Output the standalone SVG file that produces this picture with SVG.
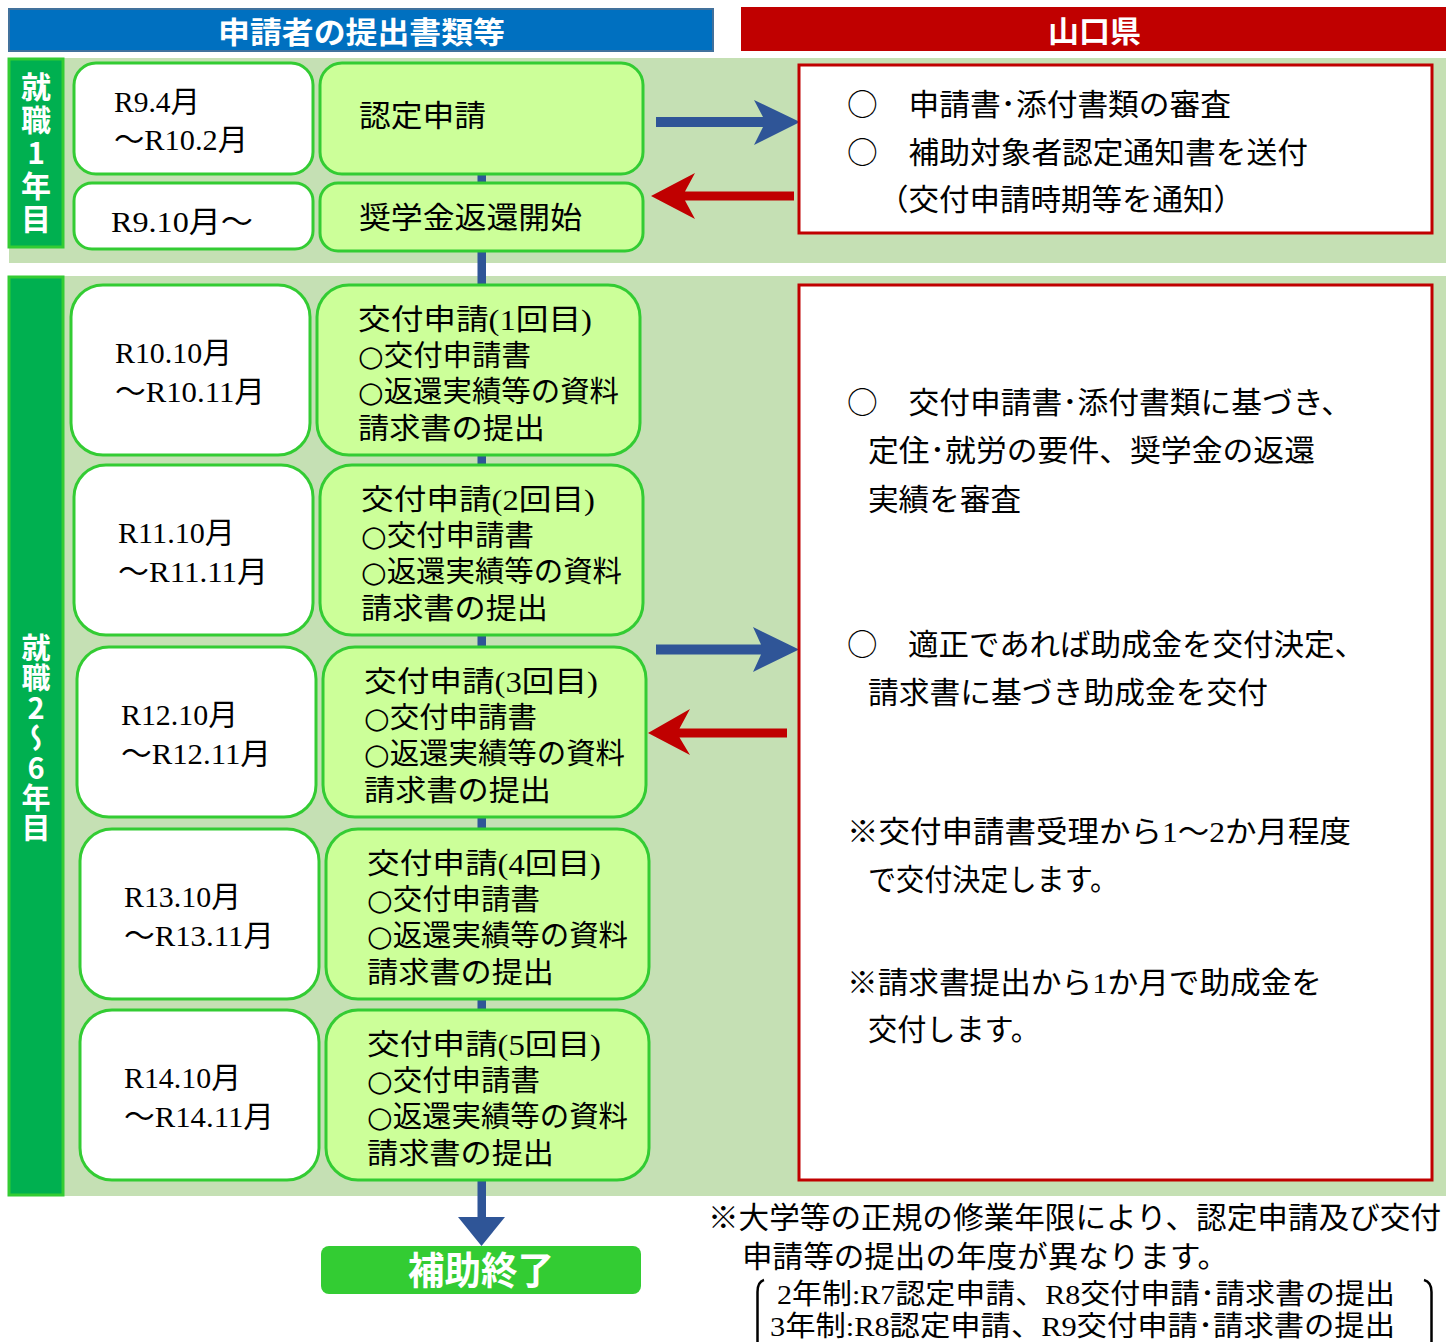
<svg xmlns="http://www.w3.org/2000/svg" width="1454" height="1342" viewBox="0 0 1454 1342">
<style>
.band{fill:#C5E0B4}
.side{fill:#00B050;stroke:#33CC33;stroke-width:3}
.date{fill:#FFFFFF;stroke:#33CC33;stroke-width:3}
.step{fill:#CCFF99;stroke:#33CC33;stroke-width:3}
.pref{fill:#FFFFFF;stroke:#C00000;stroke-width:3}
.t{font-family:"Liberation Serif","Noto Sans CJK JP",serif;font-size:30px;fill:#000}
.j{font-family:"Lato","Noto Sans CJK JP",sans-serif;font-size:30px;fill:#000}
.c{font-family:"Noto Sans CJK JP",sans-serif}
.d{font-family:"DejaVu Sans","Noto Sans CJK JP",sans-serif}
.s{font-size:29px}
.w{font-family:"Noto Sans CJK JP",sans-serif;font-weight:bold;fill:#FFFFFF;font-size:30px}
.v{font-family:"Noto Sans CJK JP",sans-serif;font-weight:bold;fill:#FFFFFF;writing-mode:vertical-rl;text-orientation:upright;text-anchor:middle}
.blue{fill:#2F5597}
.red{fill:#C00000}
.br{fill:none;stroke:#000;stroke-width:2.5}
</style>
<rect width="1454" height="1342" fill="#FFFFFF"/>

<g id="header-applicant">
<rect x="9" y="9" width="704" height="42" fill="#0070C0" stroke="#41719C" stroke-width="2"/>
<text class="w" x="218" y="43" textLength="287" lengthAdjust="spacingAndGlyphs">申請者の提出書類等</text>
</g>
<g id="header-pref">
<rect x="741" y="7" width="705" height="44" fill="#C00000"/>
<text class="w" x="1048" y="42" textLength="93" lengthAdjust="spacingAndGlyphs">山口県</text>
</g>

<g id="band-year1"><rect class="band" x="9" y="58" width="1437" height="205"/></g>
<g id="band-year2"><rect class="band" x="9" y="276" width="1437" height="920"/></g>

<g id="label-year1">
<rect class="side" x="9" y="59" width="54" height="188"/>
<text class="v" x="36" y="154" style="font-size:30px;letter-spacing:3px">就職1年目</text>
</g>
<g id="label-year2">
<rect class="side" x="9" y="277" width="54" height="918"/>
<text class="v" x="36" y="738" style="font-size:29px;letter-spacing:1px">就職2～6年目</text>
</g>

<g id="connectors">
<rect class="blue" x="477.5" y="174" width="8.5" height="1045"/>
<polygon class="blue" points="458,1217 505,1217 481.5,1246"/>
<polygon class="blue" points="656,117 763,117 754,100 800,122 754,145 763,127 656,127"/>
<polygon class="red" points="794,191.5 685,191.5 695,173 651,196 695,219 685,200.5 794,200.5"/>
<polygon class="blue" points="656,644.5 761,644.5 753,627 799,649.5 753,672 761,654.5 656,654.5"/>
<polygon class="red" points="787,728.5 679.5,728.5 690,709 648,733 690,755 679.5,737.5 787,737.5"/>
</g>

<g id="date-r9-4">
<rect class="date" x="74" y="63" width="239" height="111" rx="22"/>
<text class="t" x="114" y="112" textLength="86" lengthAdjust="spacingAndGlyphs">R9.4月</text>
<text class="t" x="114" y="150" textLength="134" lengthAdjust="spacingAndGlyphs">～R10.2月</text>
</g>
<g id="step-nintei">
<rect class="step" x="320" y="63" width="323" height="111" rx="22"/>
<text class="j" x="359" y="126" textLength="127" lengthAdjust="spacingAndGlyphs">認定申請</text>
</g>
<g id="date-r9-10">
<rect class="date" x="74" y="183" width="239" height="66" rx="18"/>
<text class="t" x="111" y="232" textLength="142" lengthAdjust="spacingAndGlyphs">R9.10月～</text>
</g>
<g id="step-henkan">
<rect class="step" x="320" y="183" width="323" height="68" rx="18"/>
<text class="j" x="359" y="228" textLength="223" lengthAdjust="spacingAndGlyphs">奨学金返還開始</text>
</g>
<g id="pref-year1">
<rect class="pref" x="799" y="65" width="633" height="168"/>
<text class="j" x="847" y="115" textLength="384" lengthAdjust="spacingAndGlyphs"><tspan class="c">○</tspan>　申請書･添付書類の審査</text>
<text class="j" x="847" y="163" textLength="461" lengthAdjust="spacingAndGlyphs"><tspan class="c">○</tspan>　補助対象者認定通知書を送付</text>
<text class="j" x="878" y="210" textLength="366" lengthAdjust="spacingAndGlyphs">（交付申請時期等を通知）</text>
</g>

<g id="date-r10">
<rect class="date" x="71" y="285" width="239" height="170" rx="32"/>
<text class="t" x="115" y="363" textLength="117" lengthAdjust="spacingAndGlyphs">R10.10月</text>
<text class="t" x="115" y="402" textLength="150" lengthAdjust="spacingAndGlyphs">～R10.11月</text>
</g>
<g id="step-kofu1">
<rect class="step" x="317" y="285" width="323" height="170" rx="32"/>
<text class="t s" x="358" y="330" textLength="234" lengthAdjust="spacingAndGlyphs">交付申請(1回目)</text>
<text class="j s" x="358" y="366" textLength="173" lengthAdjust="spacingAndGlyphs"><tspan class="d">○</tspan>交付申請書</text>
<text class="j s" x="358" y="402" textLength="261" lengthAdjust="spacingAndGlyphs"><tspan class="d">○</tspan>返還実績等の資料</text>
<text class="j s" x="358" y="439" textLength="187" lengthAdjust="spacingAndGlyphs">請求書の提出</text>
</g>

<g id="date-r11">
<rect class="date" x="74" y="465" width="239" height="170" rx="32"/>
<text class="t" x="118" y="543" textLength="117" lengthAdjust="spacingAndGlyphs">R11.10月</text>
<text class="t" x="118" y="582" textLength="150" lengthAdjust="spacingAndGlyphs">～R11.11月</text>
</g>
<g id="step-kofu2">
<rect class="step" x="320" y="465" width="323" height="170" rx="32"/>
<text class="t s" x="361" y="510" textLength="234" lengthAdjust="spacingAndGlyphs">交付申請(2回目)</text>
<text class="j s" x="361" y="546" textLength="173" lengthAdjust="spacingAndGlyphs"><tspan class="d">○</tspan>交付申請書</text>
<text class="j s" x="361" y="582" textLength="261" lengthAdjust="spacingAndGlyphs"><tspan class="d">○</tspan>返還実績等の資料</text>
<text class="j s" x="361" y="619" textLength="187" lengthAdjust="spacingAndGlyphs">請求書の提出</text>
</g>

<g id="date-r12">
<rect class="date" x="77" y="647" width="239" height="170" rx="32"/>
<text class="t" x="121" y="725" textLength="117" lengthAdjust="spacingAndGlyphs">R12.10月</text>
<text class="t" x="121" y="764" textLength="150" lengthAdjust="spacingAndGlyphs">～R12.11月</text>
</g>
<g id="step-kofu3">
<rect class="step" x="323" y="647" width="323" height="170" rx="32"/>
<text class="t s" x="364" y="692" textLength="234" lengthAdjust="spacingAndGlyphs">交付申請(3回目)</text>
<text class="j s" x="364" y="728" textLength="173" lengthAdjust="spacingAndGlyphs"><tspan class="d">○</tspan>交付申請書</text>
<text class="j s" x="364" y="764" textLength="261" lengthAdjust="spacingAndGlyphs"><tspan class="d">○</tspan>返還実績等の資料</text>
<text class="j s" x="364" y="801" textLength="187" lengthAdjust="spacingAndGlyphs">請求書の提出</text>
</g>

<g id="date-r13">
<rect class="date" x="80" y="829" width="239" height="170" rx="32"/>
<text class="t" x="124" y="907" textLength="117" lengthAdjust="spacingAndGlyphs">R13.10月</text>
<text class="t" x="124" y="946" textLength="150" lengthAdjust="spacingAndGlyphs">～R13.11月</text>
</g>
<g id="step-kofu4">
<rect class="step" x="326" y="829" width="323" height="170" rx="32"/>
<text class="t s" x="367" y="874" textLength="234" lengthAdjust="spacingAndGlyphs">交付申請(4回目)</text>
<text class="j s" x="367" y="910" textLength="173" lengthAdjust="spacingAndGlyphs"><tspan class="d">○</tspan>交付申請書</text>
<text class="j s" x="367" y="946" textLength="261" lengthAdjust="spacingAndGlyphs"><tspan class="d">○</tspan>返還実績等の資料</text>
<text class="j s" x="367" y="983" textLength="187" lengthAdjust="spacingAndGlyphs">請求書の提出</text>
</g>

<g id="date-r14">
<rect class="date" x="80" y="1010" width="239" height="170" rx="32"/>
<text class="t" x="124" y="1088" textLength="117" lengthAdjust="spacingAndGlyphs">R14.10月</text>
<text class="t" x="124" y="1127" textLength="150" lengthAdjust="spacingAndGlyphs">～R14.11月</text>
</g>
<g id="step-kofu5">
<rect class="step" x="326" y="1010" width="323" height="170" rx="32"/>
<text class="t s" x="367" y="1055" textLength="234" lengthAdjust="spacingAndGlyphs">交付申請(5回目)</text>
<text class="j s" x="367" y="1091" textLength="173" lengthAdjust="spacingAndGlyphs"><tspan class="d">○</tspan>交付申請書</text>
<text class="j s" x="367" y="1127" textLength="261" lengthAdjust="spacingAndGlyphs"><tspan class="d">○</tspan>返還実績等の資料</text>
<text class="j s" x="367" y="1164" textLength="187" lengthAdjust="spacingAndGlyphs">請求書の提出</text>
</g>

<g id="pref-year2">
<rect class="pref" x="799" y="285" width="633" height="895"/>
<text class="j" x="847" y="413" textLength="505" lengthAdjust="spacingAndGlyphs"><tspan class="c">○</tspan>　交付申請書･添付書類に基づき、</text>
<text class="j" x="868" y="461" textLength="447" lengthAdjust="spacingAndGlyphs">定住･就労の要件、奨学金の返還</text>
<text class="j" x="868" y="510" textLength="153" lengthAdjust="spacingAndGlyphs">実績を審査</text>
<text class="j" x="847" y="655" textLength="518" lengthAdjust="spacingAndGlyphs"><tspan class="c">○</tspan>　適正であれば助成金を交付決定、</text>
<text class="j" x="868" y="703" textLength="400" lengthAdjust="spacingAndGlyphs">請求書に基づき助成金を交付</text>
<text class="t" x="847" y="842" textLength="504" lengthAdjust="spacingAndGlyphs">※交付申請書受理から1～2か月程度</text>
<text class="j" x="868" y="890" textLength="250" lengthAdjust="spacingAndGlyphs">で交付決定します。</text>
<text class="t" x="847" y="993" textLength="475" lengthAdjust="spacingAndGlyphs">※請求書提出から1か月で助成金を</text>
<text class="j" x="868" y="1040" textLength="172" lengthAdjust="spacingAndGlyphs">交付します。</text>
</g>

<g id="end">
<rect x="321" y="1246" width="320" height="48" rx="8" fill="#33CC33"/>
<text class="w" x="408" y="1284" style="font-size:38px" textLength="146" lengthAdjust="spacingAndGlyphs">補助終了</text>
</g>

<g id="note">
<text class="j" x="708" y="1228" textLength="733" lengthAdjust="spacingAndGlyphs">※大学等の正規の修業年限により、認定申請及び交付</text>
<text class="j" x="742" y="1267" textLength="486" lengthAdjust="spacingAndGlyphs">申請等の提出の年度が異なります。</text>
<text class="t" x="777" y="1304" style="font-size:28px" textLength="618" lengthAdjust="spacingAndGlyphs">2年制:R7認定申請、R8交付申請･請求書の提出</text>
<text class="t" x="770" y="1336" style="font-size:28px" textLength="625" lengthAdjust="spacingAndGlyphs">3年制:R8認定申請、R9交付申請･請求書の提出</text>
<path class="br" d="M764,1280 Q757.5,1282 757.5,1292 L757.5,1345"/>
<path class="br" d="M1424,1280 Q1431.5,1282 1431.5,1292 L1431.5,1345"/>
</g>
</svg>
